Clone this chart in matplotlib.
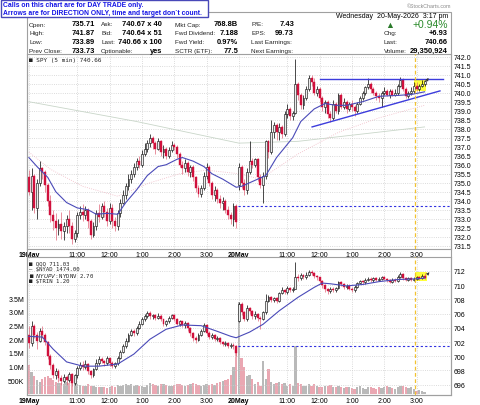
import numpy as np
import matplotlib.pyplot as plt
from matplotlib.patches import Rectangle

plt.rcParams['font.family'] = ['Liberation Sans', 'DejaVu Sans']

# 5-minute bars: 0 = 19May 9:30, 78 = 20May 9:30, 147 = 20May 3:15
spy_open = [735.3, 734.5, 735.4, 733.6, 735.0, 735.8, 735.6, 734.9, 734.0, 733.2,
            732.9, 732.5, 732.7, 732.3, 732.6, 733.0, 732.6, 731.9, 732.2, 733.2,
            733.4, 733.2, 733.5, 732.9, 732.1, 732.6, 733.3, 733.1, 733.7, 733.4,
            732.9, 733.6, 732.9, 732.6, 733.3, 733.9, 734.3, 734.8, 735.2, 735.5,
            735.9, 736.2, 736.0, 736.6, 736.9, 737.2, 737.5, 737.2, 736.9, 737.3,
            736.7, 736.9, 736.5, 736.8, 737.1, 737.0, 736.6, 736.0, 735.8, 736.1,
            735.6, 735.9, 735.3, 734.7, 734.4, 734.7, 735.4, 735.9, 735.0, 734.3,
            734.6, 734.1, 733.9, 734.0, 733.5, 733.2, 733.0, 733.7,
            734.9, 735.9, 735.0, 734.6, 735.6, 736.2, 736.0, 736.3, 735.3, 734.9,
            735.4, 737.3, 736.7, 737.8, 738.2, 737.8, 738.1, 737.7, 738.8, 739.1,
            738.7, 738.9, 740.5, 739.9, 739.3, 739.7, 740.2, 740.8, 740.6, 740.0,
            740.2, 739.7, 739.2, 739.5, 738.8, 738.6, 739.4, 739.0, 739.9, 739.2,
            739.5, 739.1, 739.4, 739.2, 739.0, 739.4, 739.7, 740.0, 740.3, 740.5,
            740.2, 740.0, 739.8, 739.7, 740.0, 740.1, 739.9, 740.1, 739.9, 740.0,
            740.4, 740.7, 740.2, 739.8, 740.0, 740.1, 740.4, 740.2, 740.4, 740.5]
spy_high = [735.7, 735.8, 735.5, 735.2, 736.2, 735.9, 735.7, 735.0, 734.3, 733.5,
            733.3, 733.0, 733.4, 732.8, 733.2, 733.5, 732.8, 732.4, 733.4, 733.7,
            733.8, 733.7, 733.6, 733.0, 732.8, 733.5, 733.8, 733.9, 734.0, 733.6,
            733.9, 733.8, 733.1, 733.5, 734.1, 734.6, 735.0, 735.5, 735.7, 736.1,
            736.4, 736.5, 736.8, 737.2, 737.4, 737.7, 737.6, 737.3, 737.5, 737.4,
            737.1, 737.0, 737.0, 737.3, 737.2, 737.1, 736.7, 736.2, 736.3, 736.2,
            736.0, 736.0, 735.4, 734.9, 734.9, 735.6, 736.1, 736.0, 735.1, 734.8,
            734.7, 734.3, 734.2, 734.1, 733.7, 733.4, 733.9, 733.8,
            736.1, 736.0, 735.2, 735.8, 737.3, 736.4, 736.4, 736.4, 735.5, 735.6,
            737.4, 737.4, 738.5, 738.4, 738.3, 738.3, 738.2, 739.0, 739.4, 739.2,
            739.0, 741.9, 740.6, 740.0, 739.9, 740.4, 741.0, 741.0, 740.8, 740.4,
            740.3, 739.8, 739.6, 739.6, 739.0, 739.6, 739.5, 740.0, 740.0, 739.7,
            739.6, 739.5, 739.6, 739.3, 739.5, 739.8, 740.1, 740.4, 740.8, 740.6,
            740.3, 740.1, 740.0, 740.1, 740.3, 740.2, 740.2, 740.2, 740.2, 740.5,
            740.9, 740.8, 740.3, 740.1, 740.3, 740.6, 740.6, 740.5, 740.7, 740.7]
spy_low = [734.3, 733.5, 733.3, 733.0, 734.8, 735.2, 734.5, 733.7, 732.8, 732.4,
           731.8, 732.1, 731.9, 731.8, 732.2, 732.2, 731.6, 731.7, 732.0, 733.0,
           732.9, 733.0, 732.5, 731.9, 732.0, 732.4, 732.8, 733.0, 733.1, 732.6,
           732.7, 732.5, 732.3, 732.4, 733.1, 733.8, 734.1, 734.6, 735.0, 735.3,
           735.7, 735.8, 735.9, 736.5, 736.7, 737.0, 736.9, 736.6, 736.8, 736.5,
           736.4, 736.3, 736.4, 736.7, 736.8, 736.4, 735.9, 735.5, 735.6, 735.4,
           735.3, 735.1, 734.5, 734.2, 734.2, 734.6, 735.2, 734.8, 734.1, 734.0,
           733.9, 733.6, 733.5, 733.3, 733.0, 732.7, 732.6, 732.5,
           734.6, 734.7, 734.3, 734.4, 735.5, 735.8, 735.9, 735.1, 734.7, 733.9,
           735.2, 736.4, 736.6, 737.5, 737.4, 737.4, 737.5, 737.6, 738.6, 738.5,
           738.5, 738.8, 739.6, 739.1, 739.1, 739.6, 740.1, 740.4, 739.9, 739.8,
           739.5, 739.0, 738.9, 738.6, 738.4, 738.5, 738.9, 738.8, 739.1, 739.1,
           738.9, 739.0, 739.0, 738.7, 738.9, 739.3, 739.6, 739.9, 740.2, 740.0,
           739.9, 739.6, 739.5, 739.2, 739.9, 739.8, 739.7, 739.8, 739.8, 739.9,
           740.3, 740.1, 739.7, 739.7, 739.9, 740.0, 740.1, 740.1, 740.3, 740.4]
spy_close = [734.5, 735.4, 733.6, 735.0, 735.8, 735.6, 734.9, 734.0, 733.2, 732.9,
             732.5, 732.7, 732.3, 732.6, 733.0, 732.6, 731.9, 732.2, 733.2, 733.4,
             733.2, 733.5, 732.9, 732.1, 732.6, 733.3, 733.1, 733.7, 733.4, 732.9,
             733.6, 732.9, 732.6, 733.3, 733.9, 734.3, 734.8, 735.2, 735.5, 735.9,
             736.2, 736.0, 736.6, 736.9, 737.2, 737.5, 737.2, 736.9, 737.3, 736.7,
             736.9, 736.5, 736.8, 737.1, 737.0, 736.6, 736.0, 735.8, 736.1, 735.6,
             735.9, 735.3, 734.7, 734.4, 734.7, 735.4, 735.9, 735.0, 734.3, 734.6,
             734.1, 733.9, 734.0, 733.5, 733.2, 733.0, 733.7, 732.8,
             735.9, 735.0, 734.6, 735.6, 736.2, 736.0, 736.3, 735.3, 734.9, 735.4,
             737.3, 736.7, 737.8, 738.2, 737.8, 738.1, 737.7, 738.8, 739.1, 738.7,
             738.9, 740.5, 739.9, 739.3, 739.7, 740.2, 740.8, 740.6, 740.0, 740.2,
             739.7, 739.2, 739.5, 738.8, 738.6, 739.4, 739.0, 739.9, 739.2, 739.5,
             739.1, 739.4, 739.2, 739.0, 739.4, 739.7, 740.0, 740.3, 740.5, 740.2,
             740.0, 739.8, 739.7, 740.0, 740.1, 739.9, 740.1, 739.9, 740.0, 740.4,
             740.7, 740.2, 739.8, 740.0, 740.1, 740.4, 740.2, 740.4, 740.5, 740.66]

qqq_open = [703.0, 701.8, 704.3, 703.0, 702.2, 703.5, 703.0, 702.0, 700.0, 698.8,
            697.4, 697.9, 697.0, 696.5, 697.1, 696.6, 697.5, 696.2, 697.3, 698.3,
            698.8, 698.5, 698.9, 697.9, 697.3, 698.2, 699.0, 699.6, 699.3, 699.0,
            699.7, 699.0, 698.6, 699.0, 699.8, 700.6, 701.4, 702.2, 703.0, 703.6,
            703.2, 704.0, 704.6, 705.2, 705.6, 706.1, 705.6, 705.8, 705.4, 705.7,
            705.2, 704.5, 704.9, 705.4, 705.8, 705.3, 704.6, 704.9, 704.4, 704.7,
            704.0, 703.2, 702.6, 702.3, 703.0, 703.6, 704.4, 703.3, 702.7, 703.0,
            702.4, 702.6, 702.0, 701.7, 701.9, 701.4, 701.6, 701.4,
            705.0, 707.4, 706.2, 705.2, 706.8, 706.3, 705.6, 706.0, 705.4, 705.3,
            706.2, 707.8, 708.3, 707.9, 708.2, 707.8, 708.9, 709.3, 709.0, 709.6,
            709.3, 709.5, 711.2, 711.0, 711.4, 711.1, 711.5, 711.8, 711.7, 711.3,
            711.1, 710.6, 710.0, 709.4, 709.2, 709.5, 709.3, 709.6, 710.4, 710.1,
            709.7, 709.9, 709.5, 709.3, 709.8, 710.3, 710.6, 710.4, 710.8, 710.9,
            710.7, 711.0, 710.8, 710.9, 711.1, 710.9, 710.7, 710.5, 710.8, 710.6,
            711.2, 711.6, 711.0, 710.8, 711.0, 710.8, 710.9, 711.1, 711.0, 711.3]
qqq_high = [704.2, 705.0, 704.5, 703.4, 704.0, 704.2, 703.2, 702.2, 700.3, 699.0,
            698.4, 698.2, 697.3, 697.5, 697.4, 697.8, 697.7, 697.5, 698.6, 699.2,
            699.3, 699.5, 699.0, 698.1, 698.4, 699.6, 700.0, 699.9, 699.5, 700.1,
            699.8, 699.3, 699.2, 700.0, 700.9, 701.7, 702.5, 703.2, 703.9, 703.8,
            704.3, 704.9, 705.5, 705.9, 706.4, 706.3, 706.0, 706.0, 706.1, 705.9,
            705.3, 705.1, 705.6, 706.0, 705.9, 705.4, 705.1, 705.0, 704.9, 704.8,
            704.1, 703.4, 702.8, 703.2, 703.8, 704.7, 704.5, 703.5, 703.2, 703.1,
            702.8, 702.7, 702.2, 702.1, 702.0, 701.8, 701.8, 701.6,
            707.6, 707.6, 706.4, 707.2, 707.0, 706.5, 706.3, 706.1, 705.7, 706.4,
            708.7, 708.6, 708.5, 708.4, 708.4, 709.1, 709.7, 709.5, 709.9, 709.8,
            709.7, 713.3, 711.6, 711.7, 711.6, 711.8, 712.1, 712.2, 711.9, 711.5,
            711.2, 710.7, 710.2, 709.6, 709.7, 709.7, 709.8, 710.6, 710.6, 710.3,
            710.1, 710.1, 709.7, 710.0, 710.5, 710.8, 710.8, 711.0, 711.1, 711.1,
            711.2, 711.2, 711.1, 711.3, 711.3, 711.0, 710.9, 711.0, 711.0, 711.4,
            711.9, 711.7, 711.2, 711.1, 711.1, 711.1, 711.3, 711.3, 711.6, 711.7]
qqq_low = [701.2, 701.5, 702.5, 701.0, 702.0, 702.6, 701.6, 699.6, 698.2, 697.0,
           696.8, 696.4, 695.9, 696.2, 696.0, 696.3, 695.8, 696.0, 697.0, 698.0,
           698.1, 698.2, 697.5, 697.0, 697.1, 698.0, 698.8, 699.0, 698.6, 698.8,
           698.6, 698.4, 698.3, 698.8, 699.6, 700.4, 701.2, 702.0, 702.8, 702.9,
           703.0, 703.8, 704.4, 705.0, 705.4, 705.3, 705.3, 705.1, 705.2, 704.9,
           704.2, 704.2, 704.7, 705.2, 705.0, 704.4, 704.3, 704.1, 704.0, 703.6,
           702.8, 702.2, 701.9, 702.1, 702.8, 703.4, 703.0, 702.4, 702.4, 702.1,
           702.1, 701.7, 701.4, 701.5, 701.1, 701.1, 701.0, 700.1,
           704.8, 705.8, 704.9, 705.0, 706.0, 705.3, 705.3, 704.9, 703.8, 705.1,
           706.0, 707.6, 707.6, 707.7, 707.5, 707.7, 708.7, 708.8, 708.8, 709.0,
           709.1, 709.4, 710.6, 710.8, 710.9, 710.9, 711.3, 711.5, 711.0, 710.8,
           710.3, 709.6, 709.1, 708.8, 708.9, 709.0, 709.0, 709.4, 709.9, 709.5,
           709.4, 709.3, 709.0, 709.1, 709.6, 710.1, 710.2, 710.2, 710.6, 710.5,
           710.5, 710.6, 710.6, 710.7, 710.7, 710.4, 710.3, 710.3, 710.4, 710.5,
           711.0, 710.8, 710.6, 710.6, 710.6, 710.6, 710.7, 710.8, 710.9, 710.9]
qqq_close = [701.8, 704.3, 703.0, 702.2, 703.5, 703.0, 702.0, 700.0, 698.8, 697.4,
             697.9, 697.0, 696.5, 697.1, 696.6, 697.5, 696.2, 697.3, 698.3, 698.8,
             698.5, 698.9, 697.9, 697.3, 698.2, 699.0, 699.6, 699.3, 699.0, 699.7,
             699.0, 698.6, 699.0, 699.8, 700.6, 701.4, 702.2, 703.0, 703.6, 703.2,
             704.0, 704.6, 705.2, 705.6, 706.1, 705.6, 705.8, 705.4, 705.7, 705.2,
             704.5, 704.9, 705.4, 705.8, 705.3, 704.6, 704.9, 704.4, 704.7, 704.0,
             703.2, 702.6, 702.3, 703.0, 703.6, 704.4, 703.3, 702.7, 703.0, 702.4,
             702.6, 702.0, 701.7, 701.9, 701.4, 701.6, 701.4, 700.5,
             707.4, 706.2, 705.2, 706.8, 706.3, 705.6, 706.0, 705.4, 705.3, 706.2,
             707.8, 708.3, 707.9, 708.2, 707.8, 708.9, 709.3, 709.0, 709.6, 709.3,
             709.5, 711.2, 711.0, 711.4, 711.1, 711.5, 711.8, 711.7, 711.3, 711.1,
             710.6, 710.0, 709.4, 709.2, 709.5, 709.3, 709.6, 710.4, 710.1, 709.7,
             709.9, 709.5, 709.3, 709.8, 710.3, 710.6, 710.4, 710.8, 710.9, 710.7,
             711.0, 710.8, 710.9, 711.1, 710.9, 710.7, 710.5, 710.8, 710.6, 711.2,
             711.6, 711.0, 710.8, 711.0, 710.8, 710.9, 711.1, 711.0, 711.3, 711.03]

volume_k = [1050, 800, 650, 500, 450, 550, 620, 650, 600, 520,
            450, 420, 400, 380, 450, 400, 480, 380, 360, 330,
            300, 280, 350, 300, 280, 260, 250, 240, 260, 230,
            250, 280, 260, 320, 300, 340, 380, 330, 360, 300,
            320, 280, 300, 270, 340, 400, 380, 320, 300, 350,
            360, 320, 300, 280, 320, 350, 380, 320, 300, 340,
            360, 400, 380, 320, 300, 340, 380, 320, 350, 340,
            400, 440, 480, 500, 560, 700, 1000, 1600,
            3350, 1300, 1000, 650, 700, 550, 350, 450, 300, 1200,
            550, 900, 450, 350, 400, 450, 350, 400, 300, 350,
            300, 1750, 420, 350, 300, 280, 350, 300, 380, 300,
            260, 250, 300, 280, 320, 260, 240, 300, 250, 220,
            260, 240, 220, 200, 260, 280, 220, 200, 240, 260,
            220, 200, 240, 220, 260, 300, 240, 220, 200, 260,
            300, 280, 240, 220, 260, 200, 120, 150, 100, 60]

# moving averages (bar index, value)
spy_ma_bar = [0, 3, 7, 10, 14, 18, 22, 25, 29, 33, 36, 40, 44, 48, 51, 55, 57, 61, 65, 68, 72, 77,
              79, 85, 88, 92, 98, 101, 106, 110, 114, 118, 124, 130, 137, 142, 147]
spy_ma = [736.4, 735.9, 735.3, 734.5, 733.9, 733.6, 733.5, 733.25, 733.3, 733.25, 733.9, 734.6,
          735.4, 735.9, 736.0, 736.3, 736.4, 736.2, 735.9, 735.5, 735.2, 734.75,
          734.8, 735.2, 735.4, 736.4, 737.5, 738.4, 739.1, 739.4, 739.3, 739.3, 739.5, 739.8,
          739.85, 739.9, 740.05]
spy_ma50_bar = [0, 8, 20, 33, 45, 56, 66, 78, 86, 100, 115, 130, 147]
spy_ma50 = [736.7, 735.75, 734.8, 734.25, 735.0, 735.5, 735.7, 735.5, 735.2, 736.6, 737.8, 738.6, 739.3]
spy_ma200_bar = [0, 40, 78, 100, 147]
spy_ma200 = [739.5, 738.4, 737.2, 737.3, 738.1]
qqq_ma_bar = [0, 5, 9, 14, 20, 26, 33, 39, 45, 51, 57, 64, 70, 75, 77,
              82, 87, 93, 100, 106, 109, 112, 118, 124, 130, 137, 144, 147]
qqq_ma = [702.8, 702.7, 701.0, 699.2, 698.6, 698.6, 698.9, 700.3, 702.4, 703.8, 704.4, 704.3,
          703.5, 702.8, 702.6, 703.4, 704.5, 706.4, 708.3, 709.7, 710.3, 710.2, 709.9, 710.1,
          710.5, 710.8, 710.9, 711.0]

spy_prev_close = 733.73
qqq_prev_close = 701.5
resist_bar, resist_lvl = [108.1, 153.8], [740.75, 740.75]
trend_bar, trend_lvl = [105.2, 152.7], [738.1, 740.1]
now_bar = 143.5

tick_pos = [0, 18, 30, 42, 54, 66, 78, 96, 108, 120, 132, 144]
tick_lab = ['19May', '11:00', '12:00', '1:00', '2:00', '3:00',
            '20May', '11:00', '12:00', '1:00', '2:00', '3:00']

W, H = 480, 406
fig = plt.figure(figsize=(W / 100, H / 100), dpi=100)


def fx(px):
    return px / W


def fy(py):
    return 1 - py / H


def ptext(x, y, s, **kw):
    kw.setdefault('va', 'center')
    fig.text(fx(x), fy(y), s, **kw)


GRID = '#cfcfcf'
SPINE = '#a0a0a0'
RED = '#d0103c'


def candles(ax, o, h, l, c, min_body):
    o, h, l, c = map(np.asarray, (o, h, l, c))
    x = np.arange(len(o))
    up = c >= o
    ax.vlines(x[up], l[up], h[up], color='black', lw=0.5, zorder=3)
    ax.vlines(x[~up], l[~up], h[~up], color='#e06478', lw=0.5, zorder=3)
    bottom = np.minimum(o, c)
    height = np.maximum(np.abs(c - o), min_body)
    ax.bar(x[up], height[up], bottom=bottom[up], width=0.72, color='#ececec',
           edgecolor='black', lw=0.4, zorder=4)
    ax.bar(x[~up], height[~up], bottom=bottom[~up], width=0.72, color=RED,
           edgecolor=RED, lw=0.3, zorder=4)


def style_axes(ax):
    for sp in ax.spines.values():
        sp.set_color(SPINE)
        sp.set_linewidth(0.8)
    ax.set_xlim(-0.7, 156.8)
    ax.set_xticks(tick_pos)
    ax.set_xticklabels(tick_lab)
    ax.tick_params(axis='x', length=0, pad=1.5, labelsize=5)
    for t in ax.get_xticklabels():
        if 'May' in t.get_text():
            t.set_fontweight('bold')
    ax.yaxis.tick_right()
    ax.tick_params(axis='y', length=0, pad=2, labelsize=5)
    ax.grid(color=GRID, ls=':', lw=0.6)
    ax.set_axisbelow(True)


# ---- main price panel
ax = fig.add_axes([fx(27), fy(250), fx(451) - fx(27), fy(55) - fy(250)])
style_axes(ax)
ax.set_ylim(731.32, 742.15)
ax.set_yticks(np.arange(731.5, 742.01, 0.5))
ax.yaxis.set_major_formatter(plt.FormatStrFormatter('%.1f'))
ax.plot(spy_ma200_bar, spy_ma200, color='#c9d6c9', lw=0.6, zorder=2)
ax.plot(spy_ma50_bar, spy_ma50, color='#f0b8c4', lw=0.6, ls=':', zorder=2)
ax.plot(spy_ma_bar, spy_ma, color='#4a4ab8', lw=0.8, zorder=5)
ax.axvspan(now_bar - 0.5, 147.6, ymin=(740.1 - 731.32) / 10.83, ymax=(740.78 - 731.32) / 10.83,
           color='#ffff3a', zorder=2.5, lw=0)
candles(ax, spy_open, spy_high, spy_low, spy_close, 0.03)
ax.hlines(spy_prev_close, 77.8, 156.8, color='#3030e0', lw=0.8, ls=(0, (2, 2)), zorder=5)
ax.plot(resist_bar, resist_lvl, color='#3c3cdc', lw=1.0, zorder=6)
ax.plot(trend_bar, trend_lvl, color='#3c3cdc', lw=1.0, zorder=6)
ax.axvline(now_bar, color='#f2c230', lw=0.9, ls=(0, (3, 2)), zorder=6)
ax.annotate('', xy=(149.0, 740.95), xytext=(147.3, 740.55),
            arrowprops=dict(arrowstyle='-|>', color='#333333', lw=0.5, mutation_scale=4), zorder=7)
ax.text(0.005, 1 - 5.5 / 195, '\u25a0 SPY (5 min) 740.66', transform=ax.transAxes,
        fontsize=4.3, family='DejaVu Sans Mono', va='center', color='#222222')

# ---- lower panel: volume (left) + QQQ (right)
pos_low = [fx(27), fy(396), fx(451) - fx(27), fy(258) - fy(396)]
axv = fig.add_axes(pos_low)
vol = np.asarray(volume_k) * 1000
vcol = ['#b9b9b9' if c >= o else '#eaa7b2' for o, c in zip(spy_open, spy_close)]
axv.bar(np.arange(len(vol)), vol, width=0.85, color=vcol, lw=0, zorder=1)
axv.set_xlim(-0.7, 156.8)
axv.set_ylim(-36000, 5.0e6)
axv.set_yticks(np.arange(0.5e6, 3.51e6, 0.5e6))
axv.set_yticklabels(['500K', '1.0M', '1.5M', '2.0M', '2.5M', '3.0M', '3.5M'])
axv.tick_params(axis='y', length=0, pad=2, labelsize=5)
axv.set_xticks([])
for sp in axv.spines.values():
    sp.set_visible(False)

axq = fig.add_axes(pos_low)
axq.patch.set_visible(False)
style_axes(axq)
axq.set_ylim(694.54, 713.97)
axq.set_yticks(np.arange(696, 712.1, 2))
axq.plot(qqq_ma_bar, qqq_ma, color='#4a4ab8', lw=0.8, zorder=5)
axq.axvspan(now_bar, 148.0, ymin=(710.6 - 694.54) / 19.43, ymax=(711.9 - 694.54) / 19.43,
            color='#ffff3a', zorder=2.5, lw=0)
candles(axq, qqq_open, qqq_high, qqq_low, qqq_close, 0.06)
axq.hlines(qqq_prev_close, 77.8, 156.8, color='#3030e0', lw=0.8, ls=(0, (2, 2)), zorder=5)
axq.axvline(now_bar, color='#f2c230', lw=0.9, ls=(0, (3, 2)), zorder=6)
axq.annotate('', xy=(149.5, 712.1), xytext=(147.5, 711.3),
             arrowprops=dict(arrowstyle='-|>', color='#333333', lw=0.5, mutation_scale=4), zorder=7)
legend_rows = ['\u25a0 QQQ 711.03', '\u2014 $NYAD 1474.00', '\u25a0 $NYUPV:$NYDNV 2.70', '\u25a0 $TRIN 1.20']
for i, s in enumerate(legend_rows):
    axq.text(0.005, 1 - (6 + 6 * i) / 138, s, transform=axq.transAxes, fontsize=4.1,
             family='DejaVu Sans Mono', va='center', color='#222222')

# ---- header / frame
fig.add_artist(Rectangle((fx(27), fy(396)), fx(451) - fx(27), fy(13) - fy(396),
                         transform=fig.transFigure, fill=False, ec=SPINE, lw=0.8))
fig.add_artist(Rectangle((fx(0.5), fy(18)), fx(207), fy(0.5) - fy(18),
                         transform=fig.transFigure, fc='white', ec='#4848b8', lw=1.0))
ptext(3, 5.2, 'Calls on this chart are for DAY TRADE only.', fontsize=4.9,
      fontweight='bold', color='#1414e6')
ptext(3, 13.2, 'Arrows are for DIRECTION ONLY, time and target don`t count.', fontsize=4.9,
      fontweight='bold', color='#1414e6')
ptext(451, 6, '\u00a9StockCharts.com', fontsize=3.8, color='#888888', ha='right')
ptext(448, 16.5, 'Wednesday  20-May-2026  3:17 pm', fontsize=5, ha='right')

header_cols = [
    (29, 95, [('Open:', '735.71'), ('High:', '741.87'), ('Low:', '733.89'), ('Prev Close:', '733.73')]),
    (101, 162, [('Ask:', '740.67 x 40'), ('Bid:', '740.64 x 51'), ('Last:', '740.66 x 100'),
                ('Optionable:', 'yes')]),
    (175, 238, [('Mkt Cap:', '768.8B'), ('Fwd Dividend:', '7.188'), ('Fwd Yield:', '0.97%'),
                ('SCTR (ETF):', '77.5')]),
    (251, 294, [('P/E:', '7.43'), ('EPS:', '99.73'), ('Last Earnings:', ''), ('Next Earnings:', '')]),
    (384, 448, [('', ''), ('Chg:', '+6.93'), ('Last:', '740.66'), ('Volume:', '29,350,924')]),
]
row_y = [25, 33.7, 42.5, 51.3]
for lx, rx, rows in header_cols:
    for (lab, val), y in zip(rows, row_y):
        if lab:
            ptext(lx, y, lab, fontsize=4.6, color='#222222')
        if val:
            ptext(rx, y, val, fontsize=5.4, fontweight='bold', ha='right')
ptext(390, 25, '\u25b2', fontsize=6.5, color='#2a7a2a', ha='center')
ptext(448, 24.5, '+0.94%', fontsize=7.5, color='#2a8a2a', ha='right')

fig.savefig('out.png', dpi=100, facecolor='white')
